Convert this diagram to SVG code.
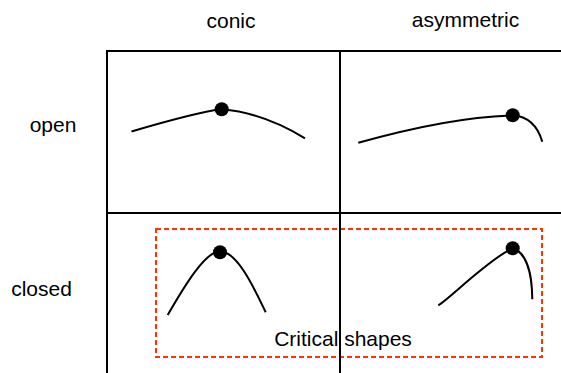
<svg xmlns="http://www.w3.org/2000/svg" width="561" height="373" viewBox="0 0 561 373">
<style>
.lbl{font-family:"Liberation Sans",Arial,sans-serif;font-size:21px;fill:#000;text-anchor:middle}
.curve{fill:none;stroke:#000;stroke-width:2;stroke-linecap:butt}
.dot{fill:#000}
.grid{stroke:#000;stroke-width:2;fill:none}
.crit{fill:none;stroke:#ff3300;stroke-width:2;stroke-dasharray:5,3}
</style>
<rect width="561" height="373" fill="#fff"/>
<g id="headers">
<text class="lbl" x="231" y="28">conic</text>
<text class="lbl" x="465.5" y="27">asymmetric</text>
<text class="lbl" x="53" y="132">open</text>
<text class="lbl" x="41.5" y="296">closed</text>
</g>
<g id="open-conic">
<path class="curve" d="M131.5,131.5 Q199,111.7 221.7,109.3 Q262.5,112.5 305,138.3"/>
<circle class="dot" cx="221.7" cy="109.3" r="7"/>
</g>
<g id="open-asymmetric">
<path class="curve" d="M358.3,142.7 Q450,117 512.7,115.3 Q535,117 542.3,141.7"/>
<circle class="dot" cx="512.7" cy="115.3" r="7"/>
</g>
<g id="closed-conic">
<path class="curve" d="M167.7,315 C185,285 205,252 220,251 C238,252 255,290 265.7,312.3"/>
<circle class="dot" cx="220" cy="252.3" r="7"/>
</g>
<g id="closed-asymmetric">
<path class="curve" d="M438.3,305.3 C448,300 490,258 512.7,248.3 C525,252 532,270 532.3,299.3"/>
<circle class="dot" cx="512.7" cy="248.3" r="7"/>
</g>
<g id="critical-shapes">
<rect class="crit" x="156" y="229" width="386" height="128"/>
<text class="lbl" x="343" y="346">Critical shapes</text>
</g>
<g id="connectors">
<line class="grid" x1="107" y1="51" x2="561" y2="51"/>
<line class="grid" x1="107" y1="213" x2="561" y2="213"/>
<line class="grid" x1="107" y1="50" x2="107" y2="373"/>
<line class="grid" x1="340" y1="50" x2="340" y2="373"/>
</g>
</svg>
